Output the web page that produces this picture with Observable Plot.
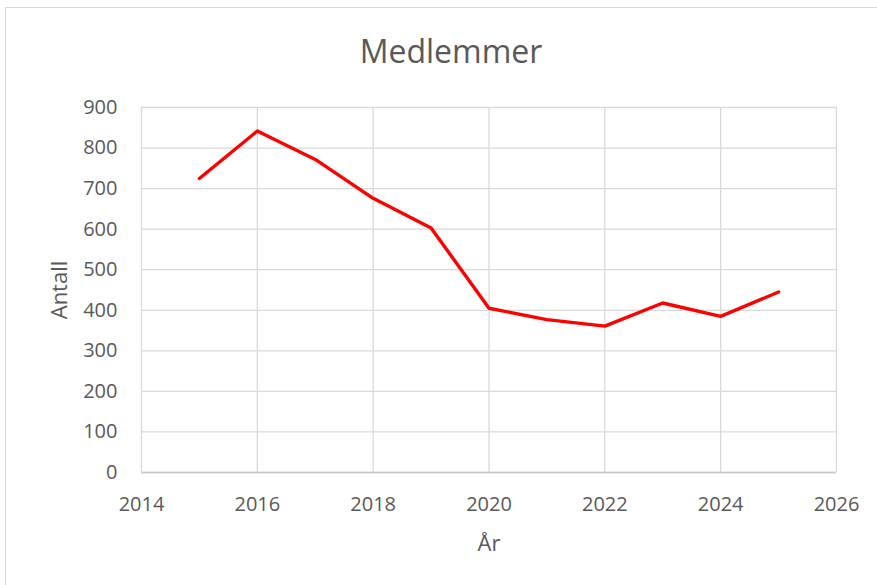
<!DOCTYPE html>
<html>
<head>
<meta charset="utf-8">
<script src="https://cdn.jsdelivr.net/npm/d3@7"></script>
<script src="https://cdn.jsdelivr.net/npm/@observablehq/plot@0.6"></script>
<style>
  html, body { margin: 0; padding: 0; background: #fff; overflow: hidden; }
  #wrap { position: relative; width: 877px; height: 585px; }
  #border { position: absolute; left: 5px; top: 7px; width: 920px; height: 620px; border: 1px solid #d9d9d9; box-sizing: border-box; }
  #chart { position: absolute; left: 0; top: 0; }
</style>
</head>
<body>
<div id="wrap"><div id="border"></div><div id="chart"></div></div>
<script>
const years = [2015, 2016, 2017, 2018, 2019, 2020, 2021, 2022, 2023, 2024, 2025];
const members = [725, 842, 772, 676, 603, 405, 377, 361, 418, 385, 445];
const xTicks = [2014, 2016, 2018, 2020, 2022, 2024, 2026];
const yTicks = [0, 100, 200, 300, 400, 500, 600, 700, 800, 900];
const title = "Medlemmer";
const xLabel = "År";
const yLabel = "Antall";

const data = years.map((y, i) => ({year: y, value: members[i]}));
const font = "'Open Sans', sans-serif";
const textColor = "#595959";

const chart = Plot.plot({
  width: 877,
  height: 585,
  marginLeft: 141,
  marginRight: 41,
  marginTop: 107,
  marginBottom: 113,
  style: {fontFamily: font, fontSize: "20px", color: textColor, background: "transparent"},
  x: {domain: [2014, 2026], ticks: xTicks, tickFormat: "d"},
  y: {domain: [0, 900], ticks: yTicks},
  marks: [
    Plot.gridX(xTicks, {stroke: "#d9d9d9", strokeOpacity: 1, strokeWidth: 1.3}),
    Plot.gridY(yTicks, {stroke: "#d9d9d9", strokeOpacity: 1, strokeWidth: 1.3}),
    Plot.ruleY([0], {stroke: "#c8c8c8", strokeWidth: 1.5}),
    Plot.axisX(xTicks, {tickSize: 0, tickPadding: 24, tickFormat: "d", label: null, fill: textColor, fontSize: 20}),
    Plot.axisY(yTicks, {tickSize: 0, tickPadding: 24, label: null, fill: textColor, fontSize: 20}),
    Plot.line(data, {x: "year", y: "value", stroke: "#ff0000", strokeWidth: 3.4, strokeLinejoin: "round", strokeLinecap: "round"}),
    Plot.text([title], {frameAnchor: "top", dy: -55, dx: -38, fontSize: 32, fill: textColor, lineAnchor: "middle"}),
    Plot.text([xLabel], {frameAnchor: "bottom", dy: 71, fontSize: 22, fill: textColor, lineAnchor: "middle"}),
    Plot.text([yLabel], {frameAnchor: "left", dx: -82, rotate: -90, textAnchor: "middle", fontSize: 22, fill: textColor, lineAnchor: "middle"})
  ]
});
document.getElementById("chart").appendChild(chart);
</script>
</body>
</html>
